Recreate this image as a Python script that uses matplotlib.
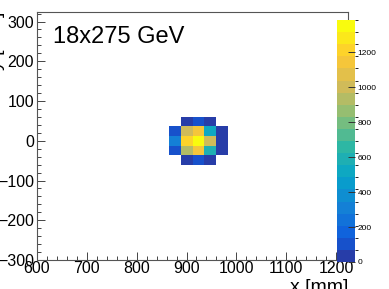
import numpy as np
import matplotlib
matplotlib.use("Agg")
import matplotlib.pyplot as plt
from matplotlib.colors import LinearSegmentedColormap, ListedColormap, BoundaryNorm
from matplotlib.ticker import MultipleLocator

plt.rcParams['font.family'] = ['Liberation Sans', 'DejaVu Sans']

# ____________________ histogram binning (24 mm bins) ____________________
x_edges = np.arange(600, 1225, 24)
y_edges = np.arange(-300, 325, 24)

# ____________________ filled bins (bin centres, counts) ____________________
bin_x = [900, 924, 948,
         876, 900, 924, 948, 972,
         876, 900, 924, 948, 972,
         876, 900, 924, 948, 972,
         900, 924, 948]
bin_y = [48, 48, 48,
         24, 24, 24, 24, 24,
         0, 0, 0, 0, 0,
         -24, -24, -24, -24, -24,
         -48, -48, -48]
counts = [45, 100, 45,
          110, 1000, 1140, 520, 45,
          310, 1210, 1385, 990, 45,
          110, 930, 1140, 590, 45,
          45, 100, 45]

title_text = "18x275 GeV"
cbar_ticks = [0, 200, 400, 600, 800, 1000, 1200]

# ____________________ ROOT kBird palette, 20 contours ____________________
stops = [0.0, 0.125, 0.25, 0.375, 0.5, 0.625, 0.75, 0.875, 1.0]
red = [0.2082, 0.0592, 0.0780, 0.0232, 0.1802, 0.5301, 0.8186, 0.9956, 0.9764]
green = [0.1664, 0.3599, 0.5041, 0.6419, 0.7178, 0.7492, 0.7328, 0.7862, 0.9832]
blue = [0.5293, 0.8684, 0.8385, 0.7914, 0.6425, 0.4662, 0.3499, 0.1968, 0.0539]
bird = LinearSegmentedColormap.from_list(
    "bird", list(zip(stops, zip(red, green, blue))))
ncont = 20
cmap = ListedColormap([bird(min(1.0, (i + 0.99) / ncont)) for i in range(ncont)])

H, _, _ = np.histogram2d(bin_x, bin_y, bins=[x_edges, y_edges], weights=counts)
H = np.ma.masked_equal(H, 0)
zmax = H.max()
norm = BoundaryNorm(np.linspace(0, zmax, ncont + 1), ncont)

# ____________________ figure ____________________
W, Hpx = 389, 289
fig = plt.figure(figsize=(W / 100, Hpx / 100), dpi=100)
ax = fig.add_axes([37 / W, 1 - 260 / Hpx, (348 - 37) / W, (260 - 12) / Hpx])
mesh = ax.pcolormesh(x_edges, y_edges, H.T, cmap=cmap, norm=norm)

ax.set_xlim(600, 1224)
ax.set_ylim(-300, 324)
ax.xaxis.set_major_locator(MultipleLocator(100))
ax.xaxis.set_minor_locator(MultipleLocator(20))
ax.yaxis.set_major_locator(MultipleLocator(100))
ax.yaxis.set_minor_locator(MultipleLocator(20))
ax.tick_params(which='both', direction='in', top=False, right=False,
               color='#444444', labelsize=11.5, width=0.7)
ax.tick_params(which='major', length=6)
ax.tick_params(which='minor', length=3)
ax.tick_params(axis='x', pad=1)
ax.tick_params(axis='y', pad=2)
for s in ax.spines.values():
    s.set_color('#555555')
    s.set_linewidth(0.8)

fig.text(53 / W, 1 - 43 / Hpx, title_text, fontsize=17, va='baseline')
fig.text(348 / W, 1 - 279 / Hpx, "x [mm]", fontsize=14, ha='right', va='top')
fig.text(5 / W, 1 - 12 / Hpx, "y [mm]", fontsize=14, rotation=90,
         ha='right', va='top')

# colour palette axis
cax = fig.add_axes([337 / W, 1 - 262 / Hpx, 18 / W, (262 - 20) / Hpx])
cb = fig.colorbar(mesh, cax=cax, ticks=cbar_ticks)
cb.outline.set_visible(False)
cax.tick_params(direction='in', length=5, width=0.7, color='#333333',
                labelsize=6, pad=2)

fig.savefig("out.png", dpi=100)
